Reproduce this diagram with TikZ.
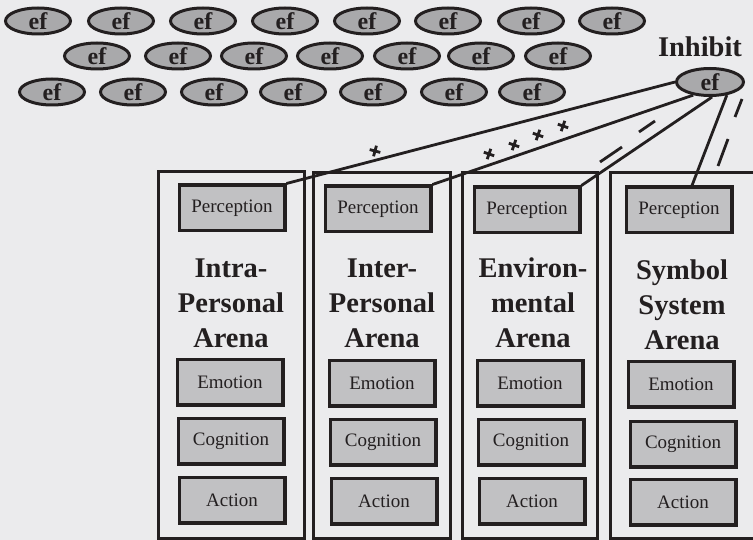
\documentclass[tikz,border=0pt]{standalone}
\usepackage{fontspec}
\setmainfont{Liberation Serif}
\usetikzlibrary{shapes.geometric,calc}
\definecolor{bgc}{HTML}{EBEBED}
\definecolor{efc}{HTML}{A9A9AB}
\definecolor{boxc}{HTML}{C1C1C3}
\definecolor{ink}{HTML}{231F20}
\begin{document}
\begin{tikzpicture}[x=1pt,y=-1pt,
 efnode/.style={ellipse,draw=ink,fill=efc,line width=3pt,minimum width=65pt,minimum height=26pt,inner sep=0pt,font=\fontsize{24}{24}\selectfont\bfseries,text=ink},
 arena/.style={draw=ink,line width=3pt},
 sub/.style={rectangle,draw=ink,fill=boxc,line width=3.5pt,minimum width=105.5pt,minimum height=45.5pt,inner sep=0pt,font=\fontsize{19}{19}\selectfont,text=ink},
 title/.style={align=center,font=\fontsize{28.5}{35}\selectfont\bfseries,text=ink},
 link/.style={draw=ink,line width=2.8pt},
 plusst/.style={draw=ink,line width=2.8pt},
 minus/.style={draw=ink,line width=2.8pt}]
\useasboundingbox (0,0) rectangle (753,540);
\clip (0,0) rectangle (753,540);
\fill[bgc] (0,0) rectangle (753,540);
% ef rows
\foreach \x [count=\i] in {38,121,203,285,367,448,531,612}
  \node[efnode] (r1e\i) at (\x,21) {ef};
\foreach \x [count=\i] in {97,178,254,330,407,481,558}
  \node[efnode] (r2e\i) at (\x,56) {\ifnum\i=4 \raisebox{-6pt}{ef}\else ef\fi};
\foreach \x [count=\i] in {52,133,214,293,373,454,532}
  \node[efnode] (r3e\i) at (\x,92) {\ifnum\i=2 \raisebox{-4pt}{ef}\else ef\fi};
% inhibit
\node[title] (inhlbl) at (700,47) {Inhibit};
\node[efnode,minimum width=67pt,minimum height=27pt] (inh) at (710,82) {ef};
% arenas
\draw[arena] (158,172) rectangle (304,538);
\draw[arena] (313,173) rectangle (450,538);
\draw[arena] (462,173) rectangle (597,538);
\draw[arena] (610,173) rectangle (770,538);
% perception
\node[sub] (P1) at (232,208) {Perception};
\node[sub] (P2) at (378,209) {Perception};
\node[sub] (P3) at (527,210) {Perception};
\node[sub] (P4) at (679,210) {Perception};
% titles
\node[title] (T1) at (231,303) {Intra-\\Personal\\Arena};
\node[title] (T2) at (382,303) {Inter-\\Personal\\Arena};
\node[title] (T3) at (533,303) {Environ-\\mental\\Arena};
\node[title] (T4) at (682,305) {Symbol\\System\\Arena};
% emotion, cognition, action
\node[sub] (E1) at (230,382) {Emotion};
\node[sub] (E2) at (382,383) {Emotion};
\node[sub] (E3) at (530,383) {Emotion};
\node[sub] (E4) at (681,384) {Emotion};
\node[sub] (C1) at (231,441) {Cognition};
\node[sub] (C2) at (383,442) {Cognition};
\node[sub] (C3) at (531,442) {Cognition};
\node[sub] (C4) at (683,444) {Cognition};
\node[sub] (A1) at (232,500) {Action};
\node[sub] (A2) at (384,501) {Action};
\node[sub] (A3) at (532,501) {Action};
\node[sub] (A4) at (683,502) {Action};
% links
\draw[link] (P1.north east) -- (inh.180);
\draw[link] (P2.north east) -- (inh.218);
\draw[link] (P3.north east) -- (inh.278);
\draw[link] ([xshift=13pt]P4.north) -- (inh.322);
% plus signs
\foreach \px/\py/\ang in {375/151/-15,489/154/-19,514/145/-19,538/135/-19,563/126/-19}
  \draw[plusst,shift={(\px,\py)},rotate=\ang] (-5.5,0) -- (5.5,0) (0,-5.5) -- (0,5.5);
% minus signs
\draw[minus] (600,162) -- (622,147);
\draw[minus] (639,132) -- (655,121);
\draw[minus] (718,166) -- (728,139);
\draw[minus] (735,117) -- (742,99);
\end{tikzpicture}
\end{document}
